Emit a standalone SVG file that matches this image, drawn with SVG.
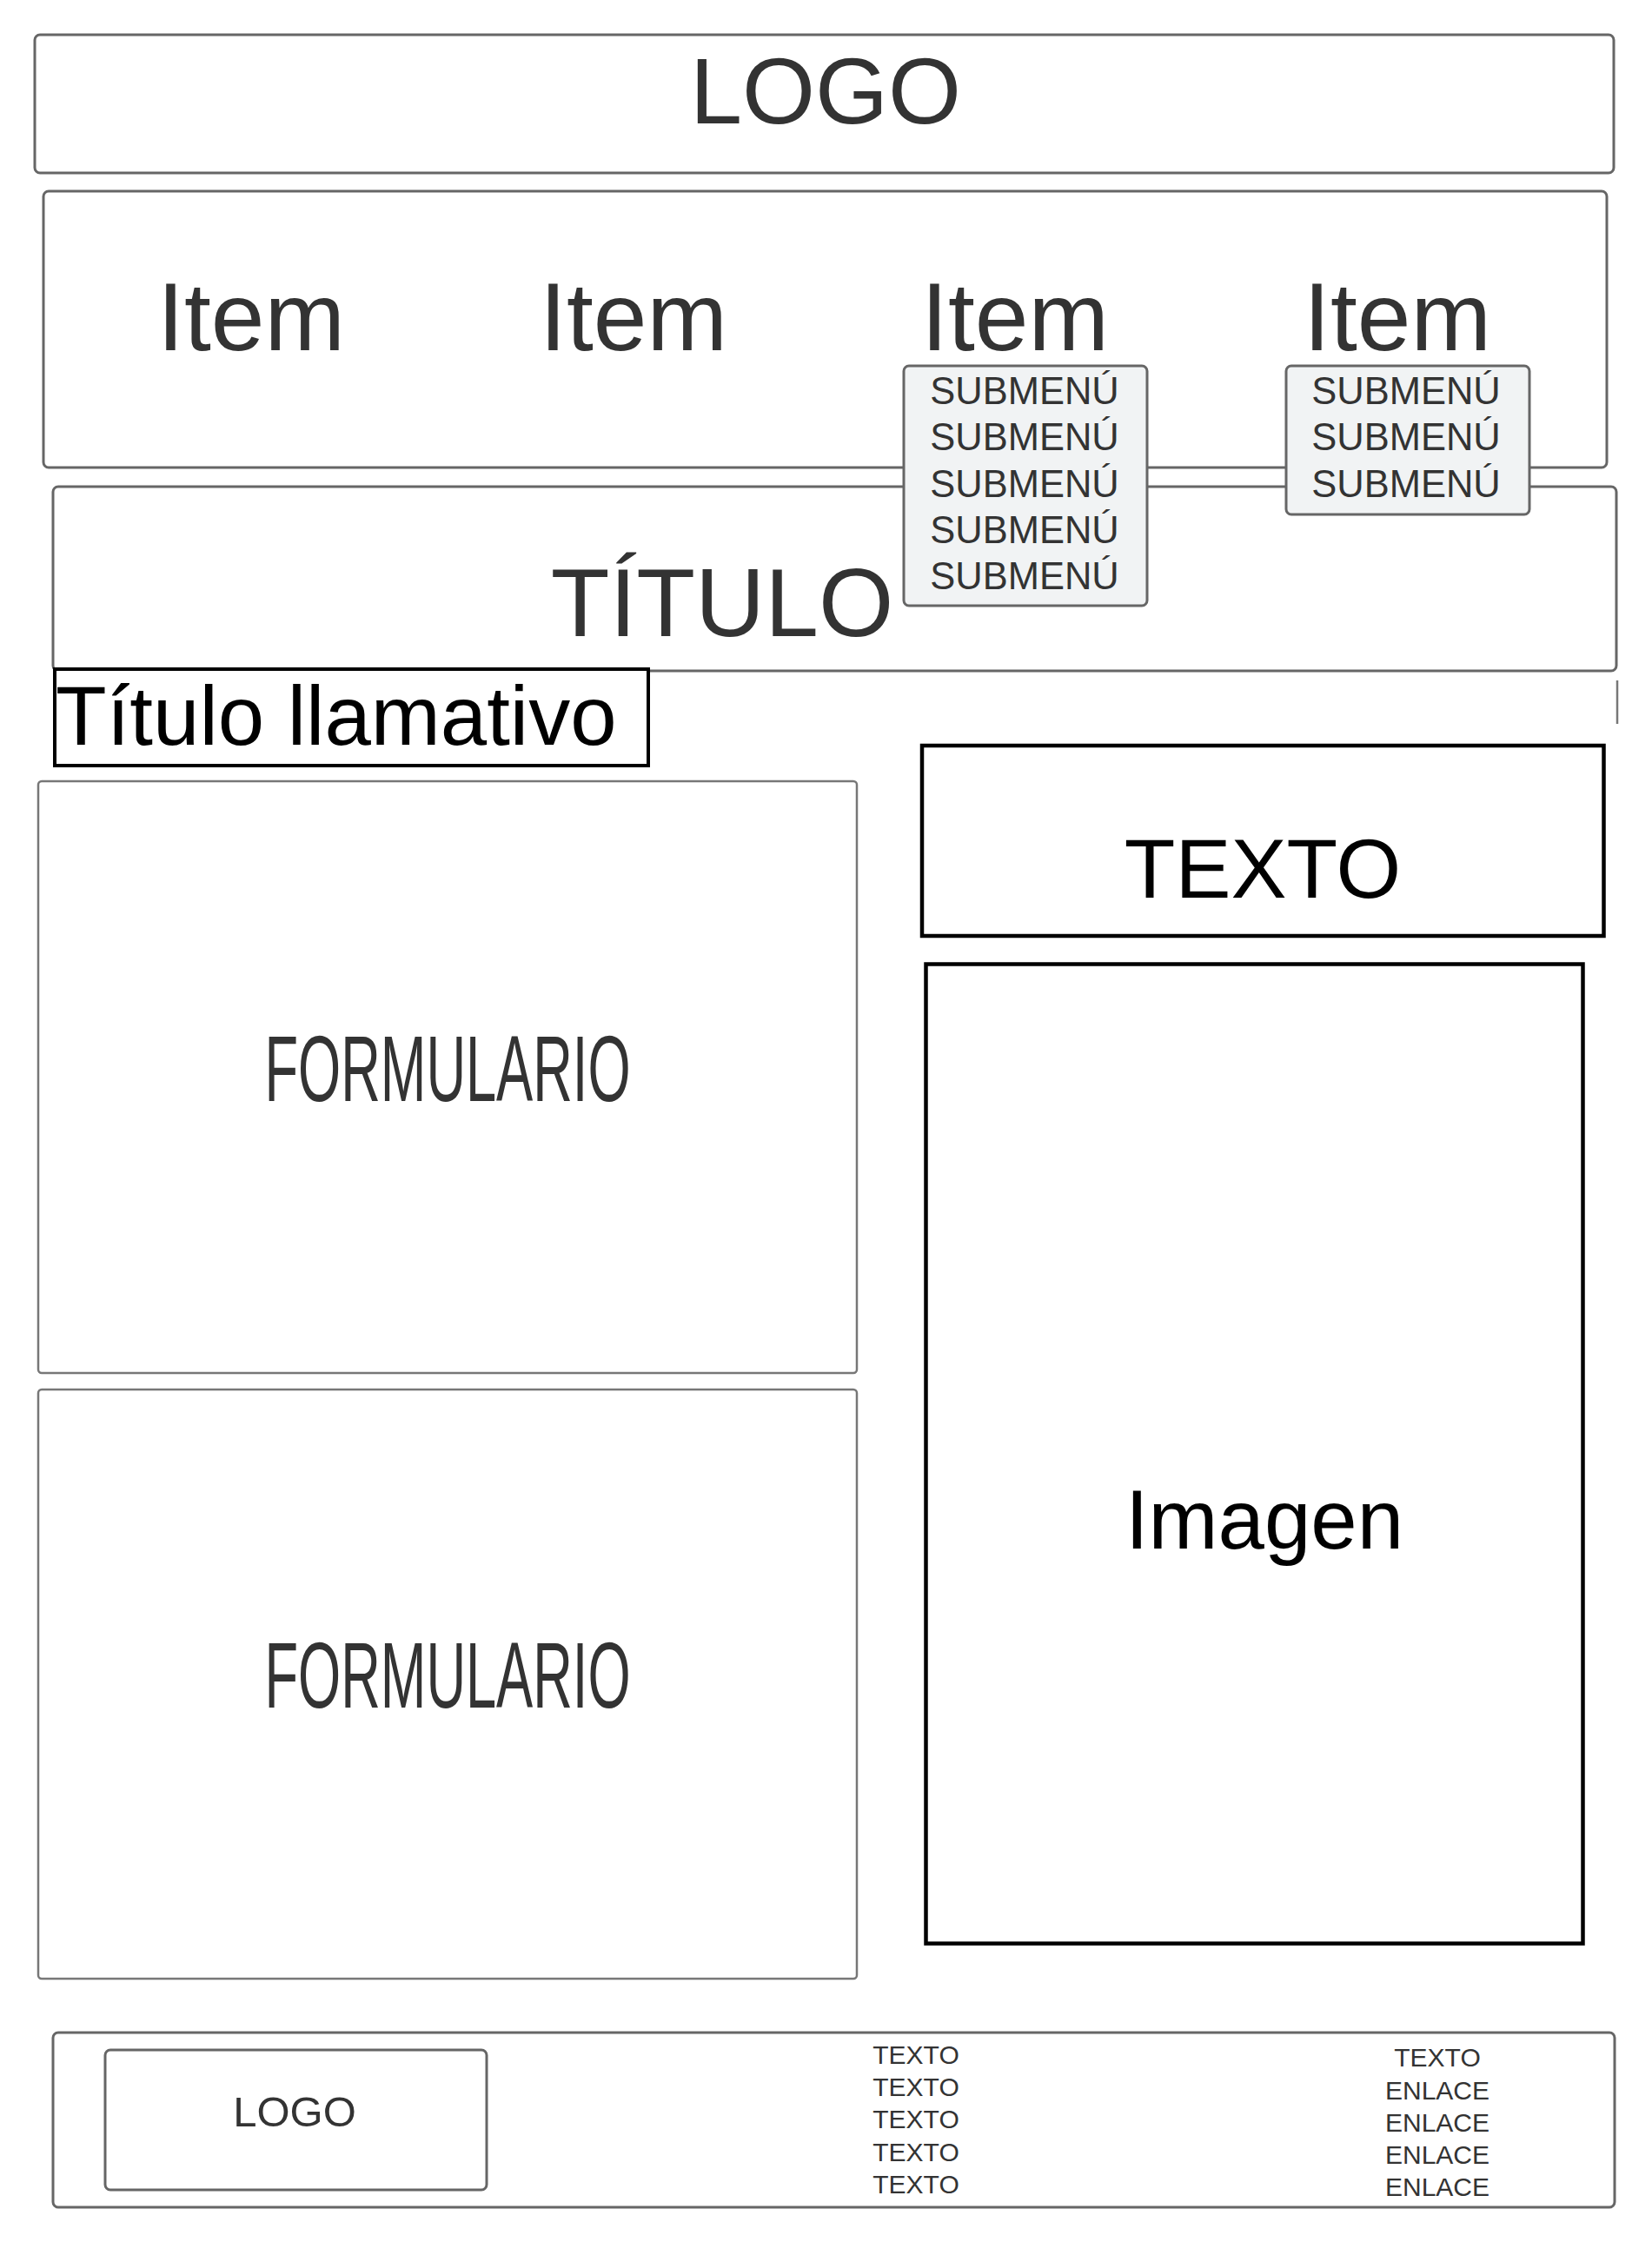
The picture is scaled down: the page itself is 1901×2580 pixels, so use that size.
<svg xmlns="http://www.w3.org/2000/svg" width="1901" height="2580" viewBox="0 0 1901 2580">
<style>
.box{fill:#ffffff;stroke:#666666;stroke-width:3}
.thin{fill:#ffffff;stroke:#777777;stroke-width:2.5}
.blk{fill:#ffffff;stroke:#000000;stroke-width:4.5}
.sub{fill:#f1f3f4;stroke:#666666;stroke-width:3}
.g{font-family:"Liberation Sans",Arial,sans-serif;fill:#333333;text-anchor:middle}
.k{font-family:"Liberation Sans",Arial,sans-serif;fill:#000000;text-anchor:middle}
.sm{font-size:43.5px}
.ft{font-size:30px}
</style>
<rect width="1901" height="2580" fill="#ffffff"/>
<g id="connectors"></g>
<g id="logo-header">
<rect class="box" x="40" y="40" width="1817" height="159" rx="6"/>
<text class="g" x="950" y="142" font-size="108">LOGO</text>
</g>
<g id="nav">
<rect class="box" x="50" y="220" width="1799" height="318" rx="6"/>
<text class="g" x="289" y="403" font-size="111">Item</text>
<text class="g" x="729" y="403" font-size="111">Item</text>
<text class="g" x="1168" y="403" font-size="111">Item</text>
<text class="g" x="1608" y="403" font-size="111">Item</text>
</g>
<g id="title">
<rect class="box" x="61" y="560" width="1799" height="212" rx="6"/>
<text class="g" x="831" y="732" font-size="111">TÍTULO</text>
<line x1="1861" y1="783" x2="1861" y2="833" stroke="#777777" stroke-width="2.5"/>
</g>
<g id="submenu-1">
<rect class="sub" x="1040" y="421" width="280" height="276" rx="6"/>
<text class="g sm" x="1179" y="465">SUBMENÚ</text>
<text class="g sm" x="1179" y="518">SUBMENÚ</text>
<text class="g sm" x="1179" y="572">SUBMENÚ</text>
<text class="g sm" x="1179" y="625">SUBMENÚ</text>
<text class="g sm" x="1179" y="678">SUBMENÚ</text>
</g>
<g id="submenu-2">
<rect class="sub" x="1480" y="421" width="280" height="171" rx="6"/>
<text class="g sm" x="1618" y="465">SUBMENÚ</text>
<text class="g sm" x="1618" y="518">SUBMENÚ</text>
<text class="g sm" x="1618" y="572">SUBMENÚ</text>
</g>
<g id="titulo-llamativo">
<rect x="63" y="770" width="683" height="111" fill="#ffffff" stroke="#000000" stroke-width="4"/>
<text x="64" y="857" font-family="Liberation Sans, Arial, sans-serif" font-size="96" fill="#000000">Título llamativo</text>
</g>
<g id="formulario-1">
<rect class="thin" x="44" y="899" width="942" height="681" rx="4"/>
<text class="g" x="515" y="1267" font-size="108" textLength="421" lengthAdjust="spacingAndGlyphs">FORMULARIO</text>
</g>
<g id="formulario-2">
<rect class="thin" x="44" y="1599" width="942" height="678" rx="4"/>
<text class="g" x="515" y="1965" font-size="108" textLength="421" lengthAdjust="spacingAndGlyphs">FORMULARIO</text>
</g>
<g id="texto">
<rect class="blk" x="1061" y="858" width="784.5" height="219"/>
<text class="k" x="1453" y="1033" font-size="96">TEXTO</text>
</g>
<g id="imagen">
<rect class="blk" x="1065.5" y="1109.5" width="756" height="1127"/>
<text class="k" x="1455" y="1782" font-size="96">Imagen</text>
</g>
<g id="footer">
<rect class="box" x="61" y="2339" width="1797" height="201" rx="6"/>
</g>
<g id="footer-logo">
<rect class="box" x="121" y="2359" width="439" height="161" rx="6"/>
<text class="g" x="339" y="2447" font-size="49">LOGO</text>
</g>
<g id="footer-texto">
<text class="g ft" x="1054" y="2375">TEXTO</text>
<text class="g ft" x="1054" y="2412">TEXTO</text>
<text class="g ft" x="1054" y="2449">TEXTO</text>
<text class="g ft" x="1054" y="2487">TEXTO</text>
<text class="g ft" x="1054" y="2524">TEXTO</text>
</g>
<g id="footer-enlaces">
<text class="g ft" x="1654" y="2378">TEXTO</text>
<text class="g ft" x="1654" y="2416">ENLACE</text>
<text class="g ft" x="1654" y="2453">ENLACE</text>
<text class="g ft" x="1654" y="2490">ENLACE</text>
<text class="g ft" x="1654" y="2527">ENLACE</text>
</g>
</svg>
